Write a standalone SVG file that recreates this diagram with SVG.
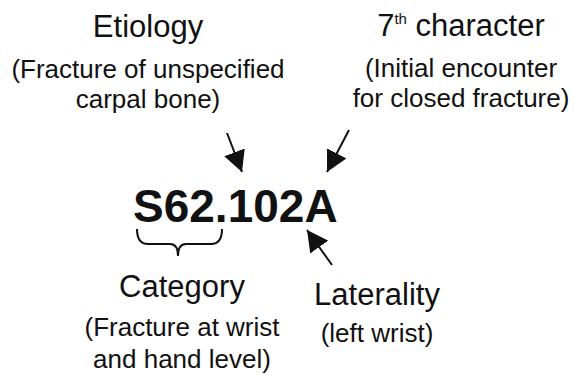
<svg xmlns="http://www.w3.org/2000/svg" width="574" height="375" viewBox="0 0 574 375">
<style>
  text { font-family: "Liberation Sans", Arial, Helvetica, sans-serif; fill: #111; text-anchor: middle; }
  .title { font-size: 31px; }
  .sub { font-size: 26px; }
  .code { font-size: 46px; font-weight: bold; text-anchor: start; }
  .conn { stroke: #111; stroke-width: 2; fill: none; }
</style>
<defs>
  <marker id="head" markerUnits="userSpaceOnUse" markerWidth="21" markerHeight="22" refX="21" refY="11" orient="auto" viewBox="0 0 21 22">
    <path d="M0,0 L21,11 L0,22 Z" fill="#111"/>
  </marker>
</defs>
<rect width="574" height="375" fill="#fff"/>
<g id="etiology">
  <text class="title" x="148" y="37">Etiology</text>
  <text class="sub" x="148" y="78">(Fracture of unspecified</text>
  <text class="sub" x="148" y="108">carpal bone)</text>
</g>
<g id="seventh-character">
  <text class="title" x="461" y="36">7<tspan font-size="15" dy="-12">th</tspan><tspan dy="12"> character</tspan></text>
  <text class="sub" x="461" y="77">(Initial encounter</text>
  <text class="sub" x="461" y="107">for closed fracture)</text>
</g>
<g id="code">
  <text class="code" x="133" y="222">S62.102A</text>
</g>
<g id="category">
  <text class="title" x="182" y="297">Category</text>
  <text class="sub" x="182" y="336">(Fracture at wrist</text>
  <text class="sub" x="182" y="368">and hand level)</text>
</g>
<g id="laterality">
  <text class="title" x="377" y="305">Laterality</text>
  <text class="sub" x="377" y="342">(left wrist)</text>
</g>
<g id="connectors">
  <line class="conn" x1="227" y1="133" x2="242" y2="172" marker-end="url(#head)"/>
  <line class="conn" x1="349" y1="130" x2="327" y2="172" marker-end="url(#head)"/>
  <line class="conn" x1="332" y1="265" x2="307" y2="230" marker-end="url(#head)"/>
  <path class="conn" d="M137,229 Q137,244 148,244 L170,244 Q178,244 178,256 Q178,244 186,244 L211,244 Q222,244 222,229"/>
</g>
</svg>
